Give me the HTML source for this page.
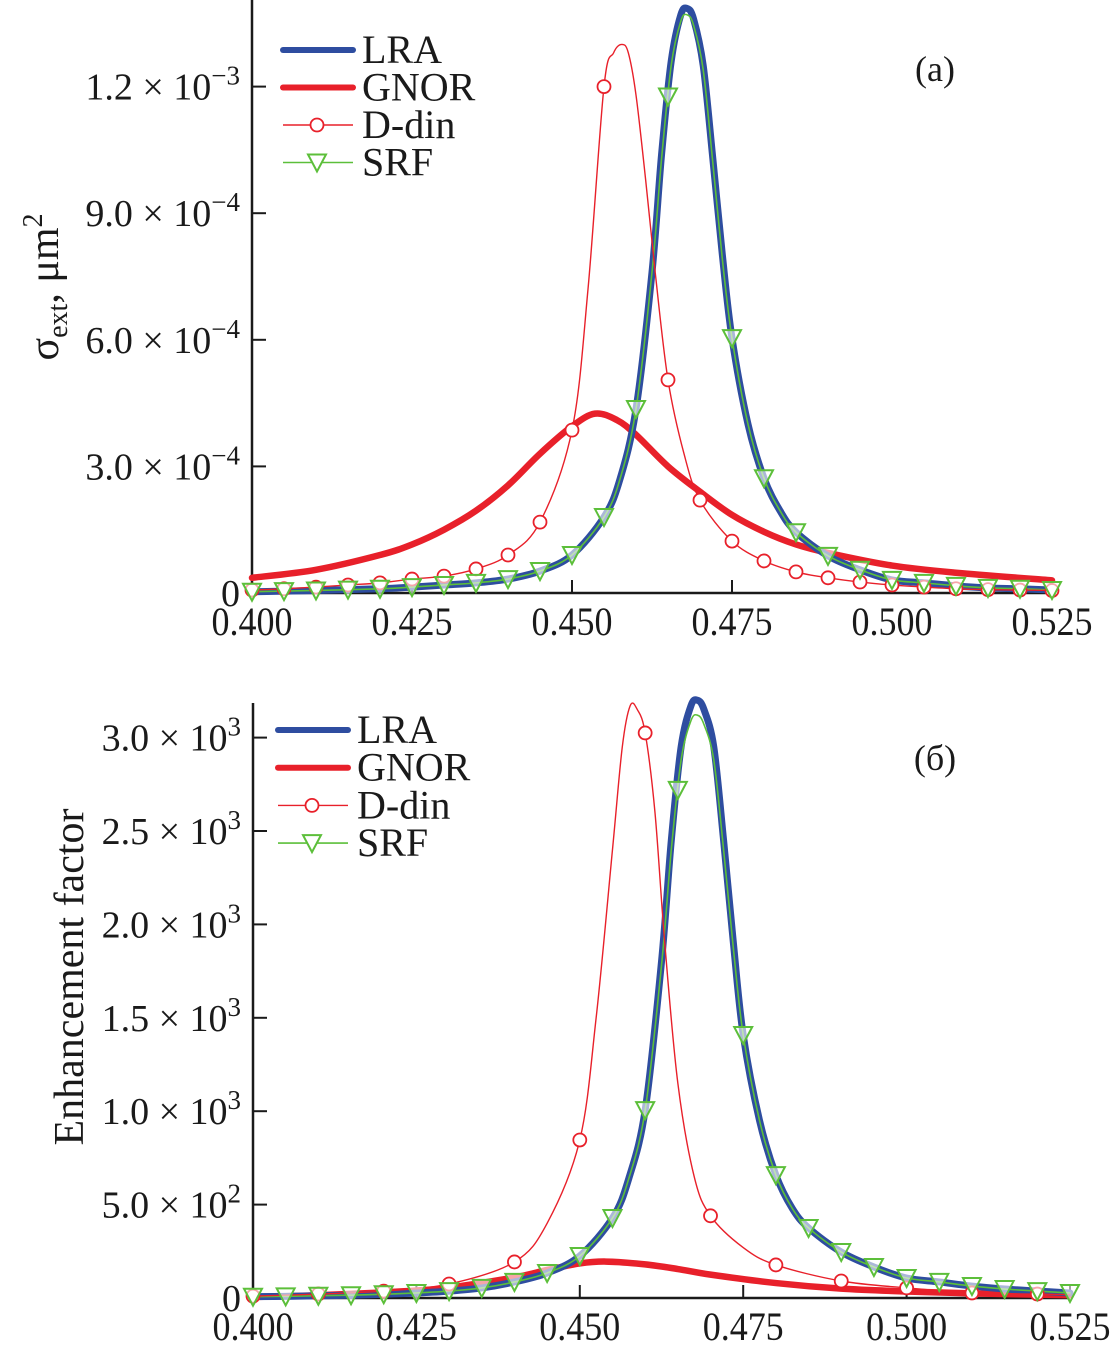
<!DOCTYPE html>
<html><head><meta charset="utf-8"><style>
html,body{margin:0;padding:0;background:#fff;}
svg{display:block;font-family:"Liberation Serif",serif;}
</style></head><body>
<svg id="chart" width="1117" height="1352" viewBox="0 0 1117 1352" xmlns="http://www.w3.org/2000/svg"></svg>
<script>
// ---------- Panel (a) data: extinction cross-section, units 1e-4 um^2 ----------
const aLraX = [0.400,0.410,0.420,0.425,0.430,0.435,0.440,0.445,0.450,0.455,0.4575,0.460,0.4625,0.464,0.4655,0.467,0.468,0.469,0.4705,0.472,0.4735,0.475,0.4775,0.480,0.4825,0.485,0.490,0.495,0.500,0.505,0.510,0.515,0.520,0.525];
const aLraY = [0.03,0.06,0.10,0.14,0.19,0.24,0.33,0.52,0.90,1.80,2.70,4.36,7.60,10.4,12.6,13.7,13.85,13.6,12.5,10.3,8.0,6.04,4.0,2.72,1.95,1.44,0.88,0.55,0.31,0.24,0.17,0.12,0.10,0.07];
const aSrfLineY = [0.03,0.06,0.10,0.14,0.19,0.24,0.33,0.52,0.90,1.80,2.70,4.36,7.60,10.3,12.5,13.55,13.7,13.45,12.4,10.2,7.9,6.04,4.0,2.72,1.95,1.44,0.88,0.55,0.31,0.24,0.17,0.12,0.10,0.07];
const aGnorX = [0.400,0.410,0.420,0.425,0.430,0.435,0.440,0.445,0.450,0.4536,0.457,0.460,0.465,0.470,0.475,0.480,0.485,0.490,0.500,0.510,0.525];
const aGnorY = [0.36,0.55,0.90,1.15,1.50,1.95,2.55,3.30,3.95,4.25,4.10,3.75,3.00,2.40,1.85,1.45,1.15,0.95,0.65,0.48,0.30];
const aDdinX = [0.400,0.405,0.410,0.415,0.420,0.425,0.430,0.435,0.440,0.445,0.450,0.4525,0.455,0.4565,0.4578,0.4588,0.460,0.4615,0.463,0.465,0.4675,0.470,0.475,0.480,0.485,0.490,0.495,0.500,0.505,0.510,0.515,0.520,0.525];
const aDdinY = [0.07,0.10,0.14,0.19,0.24,0.33,0.40,0.57,0.90,1.68,3.86,7.2,12.0,12.8,13.0,12.8,11.8,9.8,7.6,5.05,3.3,2.20,1.23,0.76,0.50,0.36,0.26,0.19,0.14,0.10,0.08,0.07,0.06];
const aDdinMarkX = [0.400,0.405,0.410,0.415,0.420,0.425,0.430,0.435,0.440,0.445,0.450,0.455,0.465,0.470,0.475,0.480,0.485,0.490,0.495,0.500,0.505,0.510,0.515,0.520,0.525];
const aSrfMarkX = [0.400,0.405,0.410,0.415,0.420,0.425,0.430,0.435,0.440,0.445,0.450,0.455,0.460,0.465,0.475,0.480,0.485,0.490,0.495,0.500,0.505,0.510,0.515,0.520,0.525];
const aYTicks = [0,3,6,9,12];
const aYTickLabels = ["0","3.0 × 10","6.0 × 10","9.0 × 10","1.2 × 10"];
const aYTickExp = ["","−4","−4","−4","−3"];
// ---------- Panel (б) data: enhancement factor ----------
const bLraX = [0.400,0.405,0.410,0.415,0.420,0.425,0.430,0.435,0.440,0.445,0.450,0.455,0.4575,0.460,0.4625,0.464,0.4655,0.467,0.468,0.469,0.4705,0.472,0.4735,0.475,0.4775,0.480,0.4825,0.485,0.490,0.495,0.500,0.505,0.510,0.515,0.520,0.525];
const bLraY = [7,9,12,15,20,27,37,54,86,134,225,428,640,1006,1800,2450,2950,3170,3200,3150,2950,2450,1900,1408,950,658,480,375,246,166,107,86,64,48,37,27];
const bSrfLineY = [7,9,12,15,20,27,37,54,86,134,225,428,640,1006,1780,2400,2880,3090,3120,3070,2880,2400,1870,1408,950,658,480,375,246,166,107,86,64,48,37,27];
const bGnorX = [0.400,0.410,0.420,0.425,0.430,0.440,0.445,0.450,0.454,0.460,0.465,0.470,0.480,0.490,0.500,0.510,0.525];
const bGnorY = [5,15,30,40,55,110,150,185,195,180,155,125,80,50,35,25,15];
const bDdinX = [0.400,0.410,0.420,0.430,0.440,0.445,0.450,0.4525,0.455,0.4565,0.4577,0.4588,0.460,0.4615,0.463,0.465,0.4675,0.470,0.475,0.480,0.490,0.500,0.510,0.520,0.525];
const bDdinY = [10,21,37,75,193,400,846,1500,2400,2950,3170,3150,3025,2600,1900,1150,650,440,270,177,91,54,27,21,18];
const bDdinMarkX = [0.400,0.410,0.420,0.430,0.440,0.450,0.460,0.470,0.480,0.490,0.500,0.510,0.520];
const bSrfMarkX = [0.400,0.405,0.410,0.415,0.420,0.425,0.430,0.435,0.440,0.445,0.450,0.455,0.460,0.465,0.475,0.480,0.485,0.490,0.495,0.500,0.505,0.510,0.515,0.520,0.525];
const bYTicks = [0,500,1000,1500,2000,2500,3000];
const bYTickLabels = ["0","5.0 × 10","1.0 × 10","1.5 × 10","2.0 × 10","2.5 × 10","3.0 × 10"];
const bYTickExp = ["","2","3","3","3","3","3"];
const xTicks = [0.400,0.425,0.450,0.475,0.500,0.525];
const xTickLabels = ["0.400","0.425","0.450","0.475","0.500","0.525"];

const NS="http://www.w3.org/2000/svg";
const svg=document.getElementById('chart');
function mk(tag,attrs,parent){const e=document.createElementNS(NS,tag);for(const k in attrs)e.setAttribute(k,attrs[k]);(parent||svg).appendChild(e);return e;}
function interp(xs,ys,x){for(let i=0;i<xs.length-1;i++){if(x>=xs[i]-1e-9&&x<=xs[i+1]+1e-9){const t=(x-xs[i])/(xs[i+1]-xs[i]);return ys[i]+t*(ys[i+1]-ys[i]);}}return ys[ys.length-1];}
function smoothPath(pts){let d=`M${pts[0][0]},${pts[0][1]}`;for(let i=0;i<pts.length-1;i++){const p0=pts[Math.max(0,i-1)],p1=pts[i],p2=pts[i+1],p3=pts[Math.min(pts.length-1,i+2)];const c1x=p1[0]+(p2[0]-p0[0])/6,c1y=p1[1]+(p2[1]-p0[1])/6,c2x=p2[0]-(p3[0]-p1[0])/6,c2y=p2[1]-(p3[1]-p1[1])/6;d+=` C${c1x},${c1y} ${c2x},${c2y} ${p2[0]},${p2[1]}`;}return d;}

function panel(cfg){
  const g=mk('g',{});
  
  
  const sx=v=>cfg.x0+(v-0.4)/0.125*(cfg.x1-cfg.x0);
  const sy=v=>cfg.yb-v*cfg.ppu;
  const ax=mk('path',{d:`M${cfg.x0},${cfg.yt} L${cfg.x0},${cfg.yb} L${cfg.x1},${cfg.yb}`,fill:'none',stroke:'#1a1a1a','stroke-width':2.5},g);
  
  
  xTicks.forEach((t,i)=>{
    mk('line',{x1:sx(t),x2:sx(t),y1:cfg.yb,y2:cfg.yb-13,stroke:'#1a1a1a','stroke-width':2},g);
    const tx=mk('text',{x:sx(t),y:cfg.yb+42,'text-anchor':'middle','font-size':40,fill:'#1a1a1a','transform':`translate(${sx(t)},0) scale(0.9,1) translate(${-sx(t)},0)`},g);
    tx.textContent=xTickLabels[i];
    
    
  });
  cfg.yTicks.forEach((t,i)=>{
    if(t>0)mk('line',{x1:cfg.x0,x2:cfg.x0+14,y1:sy(t),y2:sy(t),stroke:'#1a1a1a','stroke-width':2},g);
    const tx=mk('text',{x:cfg.x0-12,y:sy(t)+13,'text-anchor':'end','font-size':38,fill:'#1a1a1a'},g);
    
    
    if(cfg.yExp[i]){
      const base=document.createElementNS(NS,'tspan');base.textContent=cfg.yLabels[i];tx.appendChild(base);
      const sup=document.createElementNS(NS,'tspan');sup.setAttribute('dy',-15);sup.setAttribute('font-size',27);sup.textContent=cfg.yExp[i];tx.appendChild(sup);
    } else tx.textContent=cfg.yLabels[i];
  });
  const curve=(xs,ys,color,w,name)=>{const p=mk('path',{d:smoothPath(xs.map((x,i)=>[sx(x),sy(ys[i])])),fill:'none',stroke:color,'stroke-width':w,'stroke-linejoin':'round','stroke-linecap':'round'},g);};
  curve(cfg.gX,cfg.gY,'#e8202a',6.5,'gnor-line');
  curve(cfg.lX,cfg.lY,'#2e4da0',7,'lra-line');
  curve(cfg.lX,cfg.sY,'#5cbf3a',1.6,'srf-line');
  curve(cfg.dX,cfg.dY,'#e8202a',1.4,'d-din-line');
  cfg.dM.forEach(x=>{const c=mk('circle',{cx:sx(x),cy:sy(interp(cfg.dX,cfg.dY,x)),r:6.5,fill:'#fff',stroke:'#e8202a','stroke-width':1.8},g);});
  cfg.sM.forEach(x=>{const cx=sx(x),cy=sy(interp(cfg.lX,cfg.sY,x));const t=mk('path',{d:`M${cx-9},${cy-8} L${cx+9},${cy-8} L${cx},${cy+9} Z`,fill:'#fff','fill-opacity':0.6,stroke:'#5cbf3a','stroke-width':2},g);});
  const lg=mk('g',{},g);
  const L=cfg.leg;
  const names=['LRA','GNOR','D-din','SRF'];
  names.forEach((n,i)=>{
    const y=L.y+i*L.dy;
    if(i===0)mk('line',{x1:L.x,x2:L.x+70,y1:y,y2:y,stroke:'#2e4da0','stroke-width':6,'stroke-linecap':'round'},lg);
    if(i===1)mk('line',{x1:L.x,x2:L.x+70,y1:y,y2:y,stroke:'#e8202a','stroke-width':6,'stroke-linecap':'round'},lg);
    if(i===2){mk('line',{x1:L.x,x2:L.x+70,y1:y,y2:y,stroke:'#e8202a','stroke-width':1.4},lg);mk('circle',{cx:L.x+34,cy:y,r:6.5,fill:'#fff',stroke:'#e8202a','stroke-width':1.8},lg);}
    if(i===3){mk('line',{x1:L.x,x2:L.x+70,y1:y,y2:y,stroke:'#5cbf3a','stroke-width':1.6},lg);mk('path',{d:`M${L.x+25},${y-8} L${L.x+43},${y-8} L${L.x+34},${y+9} Z`,fill:'#fff',stroke:'#5cbf3a','stroke-width':2},lg);}
    const t=mk('text',{x:L.x+79,y:y+13,'font-size':40,fill:'#1a1a1a'},lg);t.textContent=n;
    
    
  });
  const pl=mk('text',{x:cfg.tag[0],y:cfg.tag[1],'font-size':36,fill:'#1a1a1a','text-anchor':'middle'},g);pl.textContent=cfg.tagText;
  
  
  return g;
}
panel({name:'panel-a',x0:252,x1:1052,yt:0,yb:593,ppu:42.2,yTicks:aYTicks,yLabels:aYTickLabels,yExp:aYTickExp,
  gX:aGnorX,gY:aGnorY,lX:aLraX,lY:aLraY,sY:aSrfLineY,dX:aDdinX,dY:aDdinY,dM:aDdinMarkX,sM:aSrfMarkX,
  leg:{x:283,y:50,dy:37.5},tag:[935,81],tagText:'(a)'});
panel({name:'panel-b',x0:253,x1:1070,yt:703,yb:1298,ppu:0.1868,yTicks:bYTicks,yLabels:bYTickLabels,yExp:bYTickExp,
  gX:bGnorX,gY:bGnorY,lX:bLraX,lY:bLraY,sY:bSrfLineY,dX:bDdinX,dY:bDdinY,dM:bDdinMarkX,sM:bSrfMarkX,
  leg:{x:278,y:730,dy:37.7},tag:[935,770],tagText:'(б)'});
const t1=mk('text',{transform:'translate(58,287) rotate(-90)','text-anchor':'middle','font-size':42,fill:'#1a1a1a'});


t1.innerHTML='σ<tspan font-size="28" dy="9">ext</tspan><tspan dy="-9">, μm</tspan><tspan font-size="28" dy="-16">2</tspan>';
const t2=mk('text',{transform:'translate(83,977) rotate(-90)','text-anchor':'middle','font-size':42,fill:'#1a1a1a'});


t2.textContent='Enhancement factor';
</script>
</body></html>
